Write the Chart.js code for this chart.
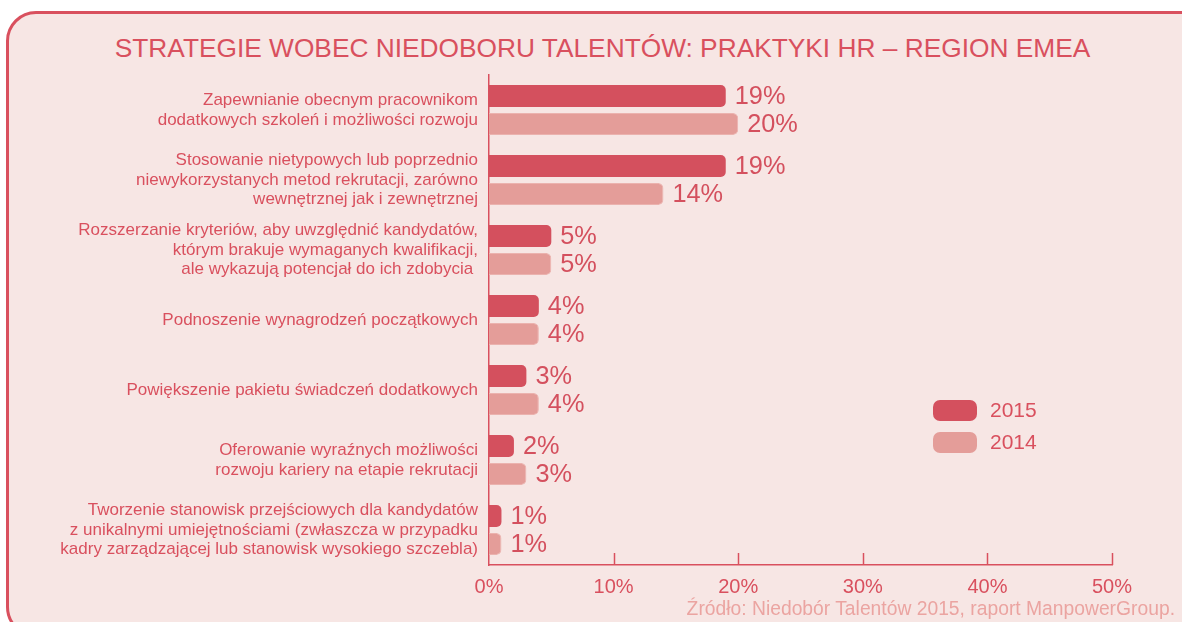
<!DOCTYPE html>
<html>
<head>
<meta charset="utf-8">
<script src="https://cdn.jsdelivr.net/npm/chart.js@4.4.1/dist/chart.umd.min.js"></script>
<style>
  html, body { margin: 0; padding: 0; background: #ffffff; overflow: hidden; }
  body { width: 1182px; height: 622px; position: relative; font-family: "Liberation Sans", Arial, sans-serif; }
  #frame {
    position: absolute; left: 6px; top: 11px; width: 1300px; height: 620px;
    border: 3px solid #d9505e; border-radius: 30px; background: #f7e6e4;
  }
  #title {
    position: absolute; left: 0; top: 33px; width: 1205px; text-align: center;
    font-size: 26.3px; color: #d9505e;
  }
  #source {
    position: absolute; right: 7px; top: 598px; font-size: 19.3px; color: #eba4a1;
  }
  #wrap { position: absolute; left: 0; top: 0; width: 1182px; height: 622px; }
</style>
</head>
<body>
<div id="frame"></div>
<div id="title">STRATEGIE WOBEC NIEDOBORU TALENTÓW: PRAKTYKI HR – REGION EMEA</div>
<div id="wrap"><canvas id="chart" width="1182" height="622"></canvas></div>
<div id="source">Źródło: Niedobór Talentów 2015, raport ManpowerGroup.</div>
<script>
  // categories (multi-line labels)
  const categories = [
    ["Zapewnianie obecnym pracownikom", "dodatkowych szkoleń i możliwości rozwoju"],
    ["Stosowanie nietypowych lub poprzednio", "niewykorzystanych metod rekrutacji, zarówno", "wewnętrznej jak i zewnętrznej"],
    ["Rozszerzanie kryteriów, aby uwzględnić kandydatów,", "którym brakuje wymaganych kwalifikacji,", "ale wykazują potencjał do ich zdobycia "],
    ["Podnoszenie wynagrodzeń początkowych"],
    ["Powiększenie pakietu świadczeń dodatkowych"],
    ["Oferowanie wyraźnych możliwości", "rozwoju kariery na etapie rekrutacji"],
    ["Tworzenie stanowisk przejściowych dla kandydatów", "z unikalnymi umiejętnościami (zwłaszcza w przypadku", "kadry zarządzającej lub stanowisk wysokiego szczebla)"]
  ];
  const values2015 = [19, 19, 5, 4, 3, 2, 1];
  const values2014 = [20, 14, 5, 4, 4, 3, 1];
  const xTicks = [0, 10, 20, 30, 40, 50];
  const seriesNames = ["2015", "2014"];

  const RED = "#d4505e";
  const PINK = "#e49d99";
  const TEXT = "#d9505e";

  // value labels, inward tick marks and legend
  const extras = {
    id: "extras",
    afterDatasetsDraw(chart) {
      const ctx = chart.ctx;
      ctx.save();
      ctx.fillStyle = RED;
      ctx.font = "25.3px 'Liberation Sans', Arial, sans-serif";
      ctx.textAlign = "left";
      ctx.textBaseline = "middle";
      chart.data.datasets.forEach((ds, i) => {
        chart.getDatasetMeta(i).data.forEach((bar, j) => {
          ctx.fillText(ds.data[j] + "%", bar.x + 9, bar.y + 1);
        });
      });
      ctx.restore();
    },
    afterDraw(chart) {
      const ctx = chart.ctx;
      const xs = chart.scales.x;
      const area = chart.chartArea;
      ctx.save();
      ctx.strokeStyle = TEXT;
      ctx.lineWidth = 1.5;
      xTicks.forEach((v) => {
        if (v === 0) return;
        const px = Math.round(xs.getPixelForValue(v)) + 0.5;
        ctx.beginPath();
        ctx.moveTo(px, area.bottom - 12);
        ctx.lineTo(px, area.bottom);
        ctx.stroke();
      });
      // legend
      ctx.font = "21px 'Liberation Sans', Arial, sans-serif";
      ctx.textAlign = "left";
      ctx.textBaseline = "middle";
      chart.data.datasets.forEach((ds, i) => {
        const y = 400 + i * 32;
        ctx.fillStyle = ds.backgroundColor;
        ctx.beginPath();
        ctx.roundRect(933, y, 44, 21, 7);
        ctx.fill();
        ctx.fillStyle = TEXT;
        ctx.fillText(ds.label, 990, y + 11);
      });
      ctx.restore();
    }
  };

  new Chart(document.getElementById("chart"), {
    type: "bar",
    data: {
      labels: categories,
      datasets: [
        {
          label: seriesNames[0],
          data: values2015,
          backgroundColor: RED,
          borderRadius: 5,
          categoryPercentage: 0.8,
          barPercentage: 0.786
        },
        {
          label: seriesNames[1],
          data: values2014,
          backgroundColor: PINK,
          borderColor: "#ebb2ae",
          borderWidth: 1,
          borderRadius: 5,
          categoryPercentage: 0.8,
          barPercentage: 0.786
        }
      ]
    },
    options: {
      indexAxis: "y",
      responsive: false,
      animation: false,
      layout: { padding: { left: 0, right: 70, top: 75, bottom: 0 } },
      plugins: {
        legend: { display: false },
        title: { display: false },
        tooltip: { enabled: false }
      },
      scales: {
        x: {
          min: 0,
          max: 50,
          afterBuildTicks: (s) => { s.ticks = xTicks.map((v) => ({ value: v })); },
          afterFit: (s) => { s.height = 57; },
          grid: { display: false, drawTicks: false },
          border: { display: true, color: TEXT, width: 1.5 },
          ticks: {
            padding: 10,
            color: TEXT,
            font: { family: "'Liberation Sans', Arial, sans-serif", size: 20 },
            callback: (v) => v + "%"
          }
        },
        y: {
          afterFit: (s) => { s.width = 489; },
          grid: { display: false, drawTicks: false },
          border: { display: true, color: TEXT, width: 1.5 },
          ticks: {
            padding: 11,
            color: TEXT,
            font: { family: "'Liberation Sans', Arial, sans-serif", size: 17, lineHeight: 1.16 }
          }
        }
      }
    },
    plugins: [extras]
  });
</script>
</body>
</html>
